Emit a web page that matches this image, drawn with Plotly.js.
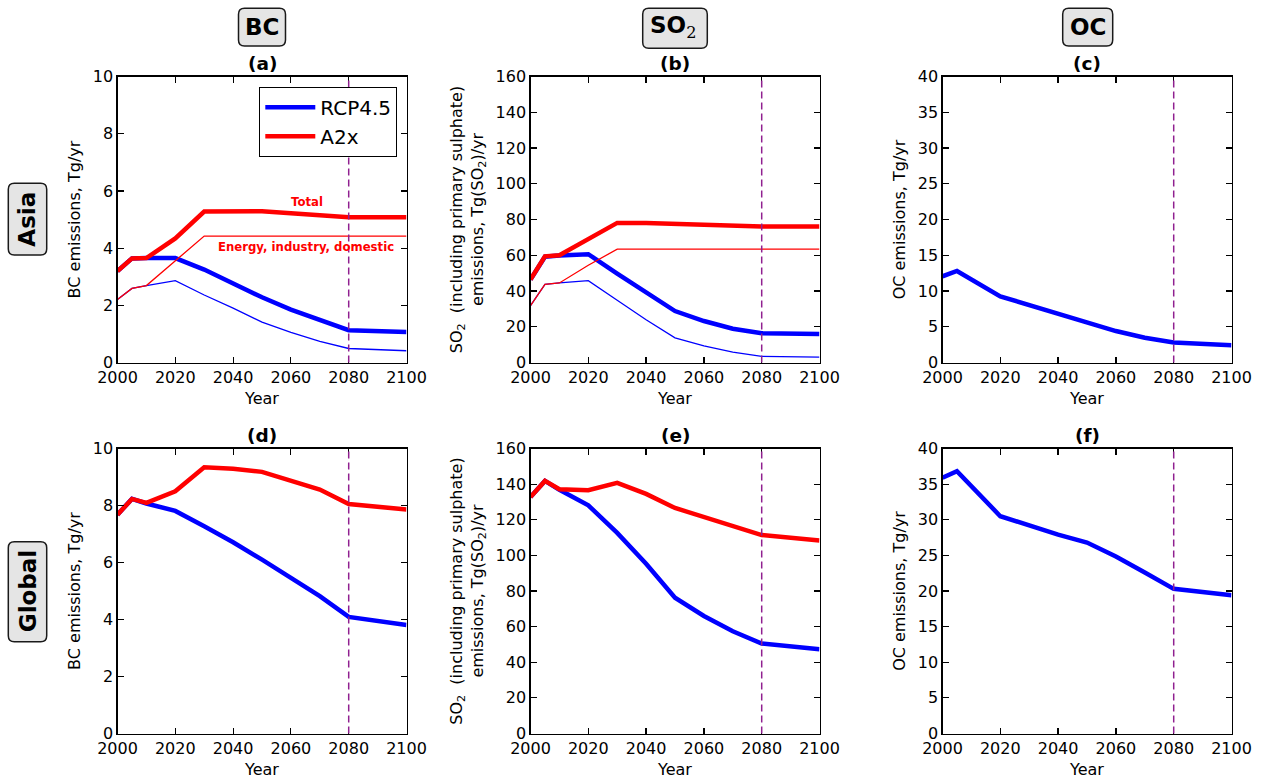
<!DOCTYPE html>
<html>
<head>
<meta charset="utf-8">
<script src="https://cdn.plot.ly/plotly-3.0.1.min.js"></script>
<style>html,body{margin:0;padding:0;background:#fff;}#chart{width:1264px;height:780px;}</style>
</head>
<body>
<div id="chart"></div>
<script>
// ---------------- DATA ----------------
const years = [2000, 2005, 2010, 2020, 2030, 2040, 2050, 2060, 2070, 2080, 2100];
const ocYears = [2000, 2005, 2020, 2030, 2040, 2050, 2060, 2070, 2080, 2100];
const markerYear = 2080;

// (a) BC, Asia
const bcAsiaRcpTotal  = [3.20, 3.64, 3.65, 3.65, 3.25, 2.77, 2.28, 1.85, 1.47, 1.13, 1.07];
const bcAsiaA2xTotal  = [3.20, 3.64, 3.65, 4.34, 5.28, 5.30, 5.29, 5.22, 5.15, 5.08, 5.08];
const bcAsiaRcpEnergy = [2.20, 2.59, 2.69, 2.86, 2.36, 1.90, 1.41, 1.05, 0.74, 0.49, 0.41];
const bcAsiaA2xEnergy = [2.20, 2.59, 2.69, 3.55, 4.42, 4.42, 4.42, 4.42, 4.42, 4.42, 4.42];
// (b) SO2, Asia
const so2AsiaRcpTotal  = [46.4, 59.2, 59.8, 60.6, 49.7, 39.4, 28.8, 23.2, 18.9, 16.4, 16.0];
const so2AsiaA2xTotal  = [46.4, 59.4, 60.0, 68.8, 78.1, 78.0, 77.6, 77.0, 76.5, 76.1, 76.1];
const so2AsiaRcpEnergy = [31.8, 43.7, 44.5, 45.8, 34.8, 23.9, 13.8, 9.3, 5.8, 3.4, 3.0];
const so2AsiaA2xEnergy = [31.8, 43.7, 44.5, 54.4, 63.4, 63.4, 63.4, 63.4, 63.4, 63.4, 63.4];
// (c) OC, Asia
const ocAsiaRcp = [12.06, 12.8, 9.25, 8.0, 6.75, 5.5, 4.4, 3.46, 2.8, 2.43];
// (d) BC, Global
const bcGlobalRcp = [7.68, 8.23, 8.07, 7.81, 7.27, 6.71, 6.10, 5.47, 4.82, 4.09, 3.81];
const bcGlobalA2x = [7.68, 8.23, 8.09, 8.50, 9.34, 9.29, 9.18, 8.89, 8.56, 8.05, 7.86];
// (e) SO2, Global
const so2GlobalRcp = [132.8, 141.8, 136.8, 128.1, 112.6, 95.3, 76.2, 66.0, 57.4, 50.5, 47.3];
const so2GlobalA2x = [132.8, 141.8, 137.1, 136.6, 140.7, 134.5, 126.6, 121.6, 116.5, 111.4, 108.4];
// (f) OC, Global
const ocGlobalRcp = [35.9, 36.8, 30.5, 29.2, 27.9, 26.8, 24.85, 22.6, 20.3, 19.4];

const seriesNames = ['RCP4.5', 'A2x'];
const panelLabels = ['(a)', '(b)', '(c)', '(d)', '(e)', '(f)'];
const columnLabels = ['BC', 'SO<sub>2</sub>', 'OC'];
const rowLabels = ['Asia', 'Global'];
const yTitles = ['BC emissions, Tg/yr',
                 'SO<sub>2</sub>  (including primary sulphate)<br>emissions, Tg(SO<sub>2</sub>)/yr',
                 'OC emissions, Tg/yr'];
const yRanges = [[0, 10], [0, 160], [0, 40]];
const yDtick = [2, 20, 5];

// ---------------- LAYOUT HELPERS ----------------
const W = 1264, H = 780;
const FONT = 'DejaVu Sans, Liberation Sans, sans-serif';
const BLUE = '#0000ff', RED = '#ff0000';
const colX = [[117.5, 406.5], [530.5, 819.5], [942.5, 1231.5]];
const rowY = [[76.5, 362.5], [448.5, 733.5]];
const px = v => v / W;
const py = v => 1 - v / H;

function rr(x0, y0, x1, y1, r) {
  const X = v => px(v).toFixed(5), Y = v => py(v).toFixed(5);
  return `M${X(x0 + r)},${Y(y0)} L${X(x1 - r)},${Y(y0)} Q${X(x1)},${Y(y0)} ${X(x1)},${Y(y0 + r)} ` +
         `L${X(x1)},${Y(y1 - r)} Q${X(x1)},${Y(y1)} ${X(x1 - r)},${Y(y1)} ` +
         `L${X(x0 + r)},${Y(y1)} Q${X(x0)},${Y(y1)} ${X(x0)},${Y(y1 - r)} ` +
         `L${X(x0)},${Y(y0 + r)} Q${X(x0)},${Y(y0)} ${X(x0 + r)},${Y(y0)} Z`;
}

const traces = [];
function line(ax, x, y, color, width, name, showlegend) {
  traces.push({
    type: 'scatter', mode: 'lines', x: x, y: y,
    xaxis: 'x' + (ax === 1 ? '' : ax), yaxis: 'y' + (ax === 1 ? '' : ax),
    line: {color: color, width: width},
    name: name || '', showlegend: !!showlegend, hoverinfo: 'skip'
  });
}
// (a)
line(1, years, bcAsiaRcpTotal, BLUE, 4.5, seriesNames[0], true);
line(1, years, bcAsiaRcpEnergy, BLUE, 1.3);
line(1, years, bcAsiaA2xTotal, RED, 4.5, seriesNames[1], true);
line(1, years, bcAsiaA2xEnergy, RED, 1.3);
// (b)
line(2, years, so2AsiaRcpTotal, BLUE, 4.5);
line(2, years, so2AsiaRcpEnergy, BLUE, 1.3);
line(2, years, so2AsiaA2xTotal, RED, 4.5);
line(2, years, so2AsiaA2xEnergy, RED, 1.3);
// (c)
line(3, ocYears, ocAsiaRcp, BLUE, 4.5);
// (d)
line(4, years, bcGlobalRcp, BLUE, 4.5);
line(4, years, bcGlobalA2x, RED, 4.5);
// (e)
line(5, years, so2GlobalRcp, BLUE, 4.5);
line(5, years, so2GlobalA2x, RED, 4.5);
// (f)
line(6, ocYears, ocGlobalRcp, BLUE, 4.5);

const layout = {
  width: W, height: H, autosize: false,
  margin: {l: 0, r: 0, t: 0, b: 0, pad: 0},
  paper_bgcolor: '#fff', plot_bgcolor: '#fff',
  font: {family: FONT, size: 16, color: '#000'},
  showlegend: true,
  legend: {
    x: px(397.3), xanchor: 'right', y: py(86.7), yanchor: 'top',
    bgcolor: '#fff', bordercolor: '#000', borderwidth: 1,
    font: {family: FONT, size: 20, color: '#000'},
    itemwidth: 50, tracegroupgap: 0
  },
  shapes: [], annotations: []
};

for (let r = 0; r < 2; r++) {
  for (let c = 0; c < 3; c++) {
    const i = r * 3 + c + 1;
    const sfx = i === 1 ? '' : String(i);
    const common = {
      showline: true, mirror: 'ticks', linecolor: '#000', linewidth: 1.2,
      ticks: 'inside', ticklen: 6, tickwidth: 1.2, tickcolor: '#000',
      showgrid: false, zeroline: false, fixedrange: true,
      tickfont: {family: FONT, size: 16, color: '#000'}
    };
    layout['xaxis' + sfx] = Object.assign({}, common, {
      domain: [px(colX[c][0]), px(colX[c][1])],
      anchor: 'y' + sfx, range: [2000, 2100], dtick: 20, tick0: 2000,
      title: {text: 'Year', font: {family: FONT, size: 16}, standoff: 6}
    });
    layout['yaxis' + sfx] = Object.assign({}, common, {
      domain: [py(rowY[r][1]), py(rowY[r][0])],
      anchor: 'x' + sfx, range: yRanges[c], dtick: yDtick[c], tick0: 0,
      title: {text: yTitles[c], font: {family: FONT, size: 16}, standoff: 8}
    });
    // vertical dashed reference line
    layout.shapes.push({
      type: 'line', xref: 'x' + sfx, yref: 'y' + sfx + ' domain',
      x0: markerYear, x1: markerYear, y0: 0, y1: 1,
      line: {color: '#902090', width: 1.5, dash: '7px,4px'}
    });
    // panel label
    layout.annotations.push({
      text: panelLabels[i - 1], xref: 'paper', yref: 'paper',
      x: px((colX[c][0] + colX[c][1]) / 2), y: py(rowY[r][0] - 13.5),
      xanchor: 'center', yanchor: 'middle', showarrow: false,
      font: {family: FONT, size: 18.5, weight: 'bold', color: '#000'}
    });
  }
}

// column headers (rounded boxes)
const headerBoxes = [[238.5, 8.3, 285.5, 46], [642.7, 8.3, 707.3, 48.3], [1062.7, 8.3, 1112.7, 46]];
headerBoxes.forEach((b, k) => {
  layout.shapes.push({type: 'path', xref: 'paper', yref: 'paper', path: rr(b[0], b[1], b[2], b[3], 6),
    fillcolor: '#e5e5e5', line: {color: '#1a1a1a', width: 1.5}, layer: 'below'});
  layout.annotations.push({
    text: k === 1 ? 'SO<sub><span style="font-family:DejaVu Serif;font-weight:normal">2</span></sub>' : columnLabels[k],
    xref: 'paper', yref: 'paper', x: px((b[0] + b[2]) / 2 + (k === 1 ? -2 : 0)), y: py(27),
    xanchor: 'center', yanchor: 'middle', showarrow: false,
    font: {family: FONT, size: 23, weight: 'bold', color: '#000'}
  });
});
// row headers (rotated, rounded boxes)
const rowBoxes = [[8.3, 183.3, 46.7, 255], [8.3, 541.7, 46.7, 641.7]];
rowBoxes.forEach((b, k) => {
  layout.shapes.push({type: 'path', xref: 'paper', yref: 'paper', path: rr(b[0], b[1], b[2], b[3], 6),
    fillcolor: '#e5e5e5', line: {color: '#1a1a1a', width: 1.5}, layer: 'below'});
  layout.annotations.push({
    text: rowLabels[k], textangle: -90,
    xref: 'paper', yref: 'paper', x: px((b[0] + b[2]) / 2), y: py((b[1] + b[3]) / 2),
    xanchor: 'center', yanchor: 'middle', showarrow: false,
    font: {family: FONT, size: 23, weight: 'bold', color: '#000'}
  });
});
// sector labels in panel (a)
layout.annotations.push({
  text: 'Total', xref: 'x', yref: 'y', x: 2065.7, y: 5.62, showarrow: false,
  xanchor: 'center', yanchor: 'middle', font: {family: FONT, size: 11.7, weight: 'bold', color: RED}
});
layout.annotations.push({
  text: 'Energy, industry, domestic', xref: 'x', yref: 'y', x: 2065.2, y: 4.03, showarrow: false,
  xanchor: 'center', yanchor: 'middle', font: {family: FONT, size: 11.7, weight: 'bold', color: RED}
});

Plotly.newPlot('chart', traces, layout, {staticPlot: true, displayModeBar: false});
</script>
</body>
</html>
